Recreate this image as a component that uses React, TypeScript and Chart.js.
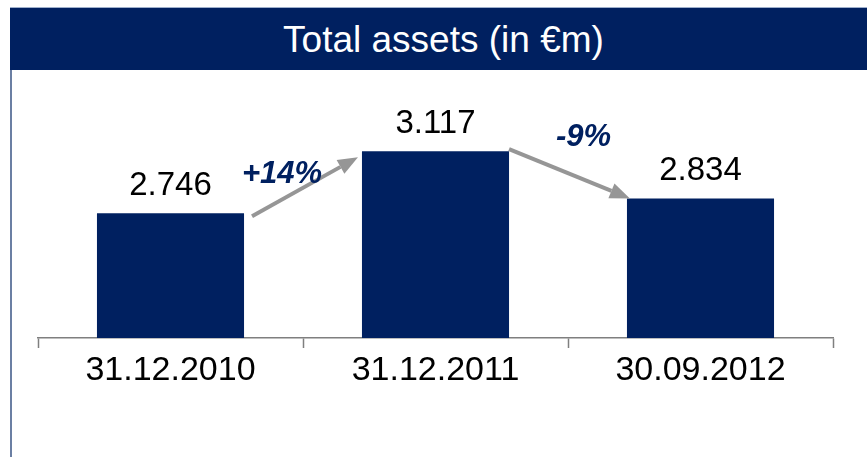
import React, { useEffect, useRef } from "react";
import { Chart, registerables } from "chart.js";

Chart.register(...registerables);

const categories = ["31.12.2010", "31.12.2011", "30.09.2012"];
const totalAssets = [2746, 3117, 2834];
const changeLabels = ["+14%", "-9%"];
const titleText = "Total assets (in €m)";

const NAVY = "#002060";
const ARROW = "#969696";
const FONT = "'Liberation Sans', Arial, sans-serif";

function fmt(v: number): string {
  const s = String(Math.round(v));
  const out: string[] = [];
  for (let i = s.length; i > 0; i -= 3) out.unshift(s.slice(Math.max(0, i - 3), i));
  return out.join(".");
}

function drawArrow(ctx: CanvasRenderingContext2D, x1: number, y1: number, x2: number, y2: number) {
  const ang = Math.atan2(y2 - y1, x2 - x1);
  const headLen = 20;
  const headW = 8;
  const bx = x2 - headLen * Math.cos(ang);
  const by = y2 - headLen * Math.sin(ang);
  ctx.save();
  ctx.strokeStyle = ARROW;
  ctx.fillStyle = ARROW;
  ctx.lineWidth = 4;
  ctx.beginPath();
  ctx.moveTo(x1, y1);
  ctx.lineTo(bx, by);
  ctx.stroke();
  ctx.beginPath();
  ctx.moveTo(x2, y2);
  ctx.lineTo(bx + headW * Math.sin(ang), by - headW * Math.cos(ang));
  ctx.lineTo(bx - headW * Math.sin(ang), by + headW * Math.cos(ang));
  ctx.closePath();
  ctx.fill();
  ctx.restore();
}

const annotatePlugin = {
  id: "annotate",
  afterDatasetsDraw(chart: any) {
    const ctx: CanvasRenderingContext2D = chart.ctx;
    const meta = chart.getDatasetMeta(0);
    const bars = meta.data.map((b: any) => {
      const p = b.getProps(["x", "y", "base", "width"], true);
      return { left: p.x - p.width / 2, right: p.x + p.width / 2, top: p.y, cx: p.x };
    });
    ctx.save();
    ctx.fillStyle = "#000";
    ctx.font = `33px ${FONT}`;
    ctx.textAlign = "center";
    ctx.textBaseline = "alphabetic";
    bars.forEach((b: any, i: number) => {
      ctx.fillText(fmt(totalAssets[i]), b.cx, b.top - 18);
    });
    // arrows
    const b0 = bars[0], b1 = bars[1], b2 = bars[2];
    const a1 = { x1: b0.right + 8, y1: b0.top + 3, x2: b1.left - 4, y2: b1.top + 6 };
    const a2 = { x1: b1.right, y1: b1.top - 2, x2: b2.left + 3, y2: b2.top };
    drawArrow(ctx, a1.x1, a1.y1, a1.x2, a1.y2);
    drawArrow(ctx, a2.x1, a2.y1, a2.x2, a2.y2);
    ctx.fillStyle = NAVY;
    ctx.font = `italic bold 31px ${FONT}`;
    ctx.fillText(changeLabels[0], (a1.x1 + a1.x2) / 2 - 23, (a1.y1 + a1.y2) / 2 - 4);
    ctx.fillText(changeLabels[1], (a2.x1 + a2.x2) / 2 + 14, (a2.y1 + a2.y2) / 2 - 28);
    ctx.restore();
  },
};

export default function App() {
  const ref = useRef<HTMLCanvasElement | null>(null);
  useEffect(() => {
    document.body.style.margin = "0";
    const canvas = ref.current!;
    const chart = new Chart(canvas, {
      type: "bar",
      data: {
        labels: categories,
        datasets: [
          {
            data: totalAssets,
            backgroundColor: NAVY,
            borderWidth: 0,
            categoryPercentage: 1,
            barPercentage: 0.555,
          },
        ],
      },
      options: {
        animation: false,
        responsive: false,
        maintainAspectRatio: false,
        layout: { padding: { left: 26, right: 34, top: 0, bottom: 0 } },
        plugins: { legend: { display: false }, tooltip: { enabled: false }, title: { display: false } },
        scales: {
          x: {
            offset: true,
            grid: {
              offset: true,
              drawOnChartArea: false,
              drawTicks: true,
              tickLength: 10,
              tickColor: "#7f7f7f",
              tickWidth: 1.5,
            },
            border: { display: true, color: "#7f7f7f", width: 1.5 },
            ticks: { color: "#000", font: { family: FONT, size: 34 }, padding: 2, maxRotation: 0 },
            afterFit: (s: any) => {
              s.height = 119;
            },
          },
          y: { display: false, min: 2000, max: 3602 },
        },
      },
      plugins: [annotatePlugin],
    });
    return () => chart.destroy();
  }, []);

  return (
    <div style={{ position: "fixed", left: 0, top: 0, width: 867, height: 457, overflow: "hidden", background: "#fff" }}>
      <div
        style={{
          position: "absolute",
          left: 10,
          top: 7,
          width: 857,
          height: 1,
          background: "#9fb0cc",
        }}
      />
      <div
        style={{
          position: "absolute",
          left: 10,
          top: 8,
          width: 857,
          height: 62,
          background: NAVY,
          color: "#fff",
          fontFamily: FONT,
          fontSize: 37,
          lineHeight: "62px",
          textAlign: "center",
          paddingTop: 1,
          paddingLeft: 10,
          boxSizing: "border-box",
        }}
      >
        {titleText}
      </div>
      <div style={{ position: "absolute", left: 10, top: 70, width: 2, height: 387, background: "#6b7fa3" }} />
      <canvas ref={ref} width={855} height={387} style={{ position: "absolute", left: 12, top: 70, width: 855, height: 387 }} />
    </div>
  );
}
